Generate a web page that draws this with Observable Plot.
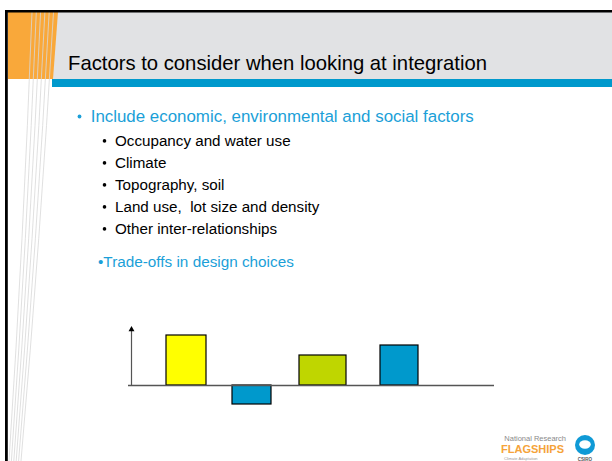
<!DOCTYPE html>
<html>
<head>
<meta charset="utf-8">
<script src="https://cdn.jsdelivr.net/npm/d3@7"></script>
<script src="https://cdn.jsdelivr.net/npm/@observablehq/plot@0.6"></script>
<style>
  html, body { margin: 0; padding: 0; background: #fff; }
  #slide { position: relative; width: 612px; height: 461px; overflow: hidden; font-family: "Liberation Sans", Arial, sans-serif; }
  #deco { position: absolute; left: 0; top: 0; }
  #deco text { white-space: pre; }
  #chart { position: absolute; left: 126px; top: 324px; }
</style>
</head>
<body>
<div id="slide">
  <svg id="deco" width="612" height="461" xmlns="http://www.w3.org/2000/svg"></svg>
  <div id="chart"></div>
</div>
<script>
// ---- slide text ----
const titleText = "Factors to consider when looking at integration";
const mainBullet = "Include economic, environmental and social factors";
const subBullets = [
  "Occupancy and water use",
  "Climate",
  "Topography, soil",
  "Land use,  lot size and density",
  "Other inter-relationships"
];
const tradeText = "•Trade-offs in design choices";

// ---- chart data (abstract units) ----
const barNames = ["Option 1", "Option 2", "Option 3", "Option 4"];
const barStart = [3.5, 10.1, 16.8, 24.9];
const barEnd = [7.5, 14.0, 21.5, 28.7];
const barValue = [5.0, -1.9, 3.0, 4.0];
const barColor = ["#ffff00", "#0099cc", "#bfd600", "#0099cc"];
const axisTop = 5.9;
const axisEnd = 36.3;

// ---- decoration & text ----
const NS = "http://www.w3.org/2000/svg";
const deco = document.getElementById("deco");
function el(tag, attrs, text) {
  const e = document.createElementNS(NS, tag);
  for (const k in attrs) e.setAttribute(k, attrs[k]);
  if (text != null) e.textContent = text;
  deco.appendChild(e);
  return e;
}
// header background
el("rect", {x: 8, y: 12, width: 604, height: 67, fill: "#e1e2e4"});
el("polygon", {points: "8,12 58,12 53,79 8,79", fill: "#f9a83a"});
el("rect", {x: 52, y: 79, width: 560, height: 8, fill: "#0099cc"});
// stripes
for (let i = 0; i < 6; i++) {
  const xt = 32 + 4.3 * i, xb = 9 + 2.4 * i;
  const xm = (xt + xb) / 2 + 3;
  el("path", {d: `M${xt},12 Q${xm},240 ${xb},461`, fill: "none", stroke: "#d8d8d8", "stroke-width": 0.8});
}
// border
el("rect", {x: 5, y: 10, width: 607, height: 2.5, fill: "#000"});
el("rect", {x: 5, y: 10, width: 2.8, height: 451, fill: "#000"});
// title
el("text", {x: 68, y: 70, "font-size": 21, fill: "#000", textLength: 419, lengthAdjust: "spacingAndGlyphs"}, titleText);
// bullets
el("circle", {cx: 79.5, cy: 116.5, r: 1.9, fill: "#1b9fd8"});
el("text", {x: 90.7, y: 121.5, "font-size": 16.9, fill: "#1b9fd8"}, mainBullet);
subBullets.forEach((s, i) => {
  const yb = 145.7 + 22 * i;
  el("circle", {cx: 104.5, cy: yb - 4.8, r: 1.8, fill: "#000"});
  el("text", {x: 115, y: yb, "font-size": 15.2, fill: "#000"}, s);
});
el("text", {x: 98, y: 266.7, "font-size": 15.3, fill: "#1b9fd8"}, tradeText);
// logo
el("text", {x: 566, y: 441, "font-size": 7.5, fill: "#8a8a8a", "text-anchor": "end"}, "National Research");
el("text", {x: 564, y: 453, "font-size": 11, "font-weight": "bold", fill: "#f5a33a", "text-anchor": "end"}, "FLAGSHIPS");
el("text", {x: 504, y: 460, "font-size": 4, fill: "#999"}, "Climate Adaptation");
el("circle", {cx: 585, cy: 445, r: 10, fill: "#0f9ad6"});
el("ellipse", {cx: 585, cy: 444.5, rx: 5.8, ry: 4.2, fill: "#fff"});
el("text", {x: 585, y: 461, "font-size": 4.5, "font-weight": "bold", fill: "#555", "text-anchor": "middle"}, "CSIRO");

// ---- chart ----
const bars = barNames.map((name, i) => ({
  name, x1: barStart[i], x2: barEnd[i], value: barValue[i], color: barColor[i]
}));

const chart = Plot.plot({
  width: 370,
  height: 85,
  marginLeft: 2, marginRight: 2, marginTop: 2, marginBottom: 2,
  x: {domain: [-0.3, axisEnd], axis: null},
  y: {domain: [-2.2, axisTop], axis: null},
  marks: [
    Plot.rect(bars, {x1: "x1", x2: "x2", y1: 0, y2: "value", fill: "color", stroke: "#000", strokeWidth: 1.2}),
    Plot.ruleY([0], {x1: -0.3, x2: axisEnd, stroke: "#555", strokeWidth: 1.5}),
    Plot.ruleX([0], {y1: 0, y2: axisTop - 0.3, stroke: "#555", strokeWidth: 1.2}),
    Plot.dot([{x: 0, y: axisTop - 0.3}], {x: "x", y: "y", symbol: "triangle", r: 2.2, fill: "#000", stroke: "none"})
  ]
});
document.getElementById("chart").appendChild(chart);
</script>
</body>
</html>
